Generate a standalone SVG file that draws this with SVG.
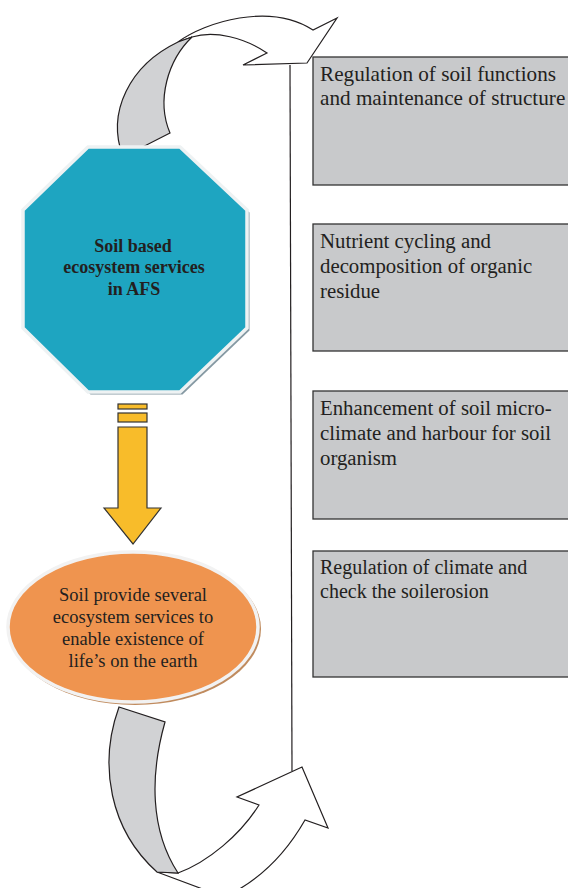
<svg xmlns="http://www.w3.org/2000/svg" width="568" height="888" viewBox="0 0 568 888">
  <style>
    .box { fill: #c8c9cb; stroke: #333; stroke-width: 1.3; }
    .boxtxt { font-family: "Liberation Serif", "Times New Roman", serif; font-size: 20.8px; fill: #231f20; }
    .ribbon { fill: #d1d2d4; stroke: #231f20; stroke-width: 1.2; stroke-linejoin: miter; }
    .head { fill: #ffffff; stroke: #231f20; stroke-width: 1.2; stroke-linejoin: miter; }
    .octtxt { font-family: "Liberation Serif", "Times New Roman", serif; font-size: 18px; font-weight: bold; fill: #231f20; text-anchor: middle; }
    .elltxt { font-family: "Liberation Serif", "Times New Roman", serif; font-size: 18.5px; fill: #231f20; text-anchor: middle; }
    .yarrow { fill: #f8bc2a; stroke: #333; stroke-width: 1.2; }
  </style>

  <rect width="568" height="888" fill="#ffffff"/>

  <!-- connectors: curved cycle arrows, vertical link and down arrow -->
  <g id="connectors">
    <!-- vertical link between the two curved arrows -->
    <line x1="290" y1="65" x2="292" y2="771" stroke="#231f20" stroke-width="1.2"/>

    <!-- top curved arrow -->
    <path class="head" d="M178,42 C205,22 270,2 313,30 L337,18 L307,63 L243,65 L267,53 C245,38 215,30 192,37 Z"/>
    <path class="ribbon" d="M123,157 C106,112 130,65 178,42 L192,37 C168,60 156,100 170,133 Z"/>

    <!-- bottom curved arrow -->
    <path class="head" d="M178,873 C208,862 240,835 259,805 L237,797 L302,767 L328,828 L305,820 C285,855 258,882 222,898 L200,888 L157,872 Z"/>
    <path class="ribbon" d="M119,707 L165,722 C150,775 150,830 178,873 L157,872 C110,830 98,765 119,707 Z"/>

    <!-- down arrow from octagon to ellipse -->
    <g id="down-arrow">
      <rect class="yarrow" x="118" y="404" width="29" height="5"/>
      <rect class="yarrow" x="118" y="413" width="29" height="9"/>
      <path class="yarrow" d="M118,427 L147,427 L147,508 L161,508 L133,544 L104,508 L118,508 Z"/>
    </g>
  </g>

  <!-- central octagon -->
  <g id="node-octagon">
    <polygon points="90.5,149.5 182.5,149.5 249.5,212.5 249.5,330.5 182.5,394.5 90.5,394.5 25.5,330.5 25.5,212.5" fill="#8599a3"/>
    <polygon points="88,147 180,147 247,210 247,328 180,392 88,392 23,328 23,210" fill="#1ea5c1" stroke="#eef2f3" stroke-width="3.5"/>
    <text class="octtxt" x="133" y="252">Soil based</text>
    <text class="octtxt" x="134" y="273">ecosystem services</text>
    <text class="octtxt" x="134" y="295">in AFS</text>
  </g>

  <!-- ellipse -->
  <g id="node-ellipse">
    <ellipse cx="135" cy="629" rx="126" ry="76" fill="#c08b5e"/>
    <ellipse cx="133" cy="627" rx="125" ry="75" fill="#ef944f" stroke="#f2f2f2" stroke-width="3.5"/>
    <text class="elltxt" x="133" y="601">Soil provide several</text>
    <text class="elltxt" x="133" y="623">ecosystem services to</text>
    <text class="elltxt" x="133" y="645">enable existence of</text>
    <text class="elltxt" x="133" y="667">life’s on the earth</text>
  </g>

  <!-- service boxes -->
  <g id="box-1">
    <rect class="box" x="313" y="57" width="262" height="128"/>
    <text class="boxtxt" x="320" y="81" style="font-size:21.2px">Regulation of soil functions</text>
    <text class="boxtxt" x="320" y="105" style="font-size:21.2px">and maintenance of structure</text>
  </g>
  <g id="box-2">
    <rect class="box" x="313" y="224" width="262" height="127"/>
    <text class="boxtxt" x="320" y="248">Nutrient cycling and</text>
    <text class="boxtxt" x="320" y="273">decomposition of organic</text>
    <text class="boxtxt" x="320" y="298">residue</text>
  </g>
  <g id="box-3">
    <rect class="box" x="313" y="391" width="262" height="128"/>
    <text class="boxtxt" x="320" y="415">Enhancement of soil micro-</text>
    <text class="boxtxt" x="320" y="440">climate and harbour for soil</text>
    <text class="boxtxt" x="320" y="465">organism</text>
  </g>
  <g id="box-4">
    <rect class="box" x="313" y="551" width="262" height="126"/>
    <text class="boxtxt" x="320" y="574" style="font-size:20px">Regulation of climate and</text>
    <text class="boxtxt" x="320" y="598" style="font-size:20px">check the soilerosion</text>
  </g>
</svg>
